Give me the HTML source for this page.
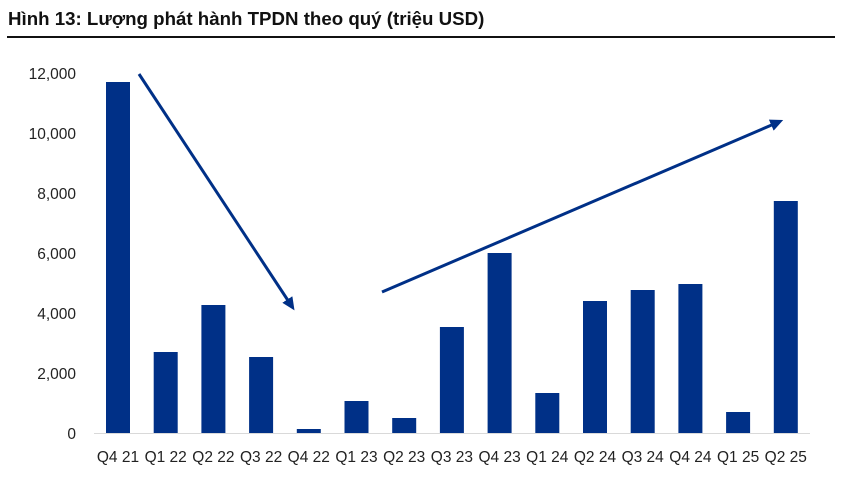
<!DOCTYPE html>
<html><head><meta charset="utf-8"><style>
html,body{margin:0;padding:0;background:#fff;}
body{width:841px;height:482px;overflow:hidden;font-family:"Liberation Sans",sans-serif;}
</style></head><body>
<svg width="841" height="482" xmlns="http://www.w3.org/2000/svg" font-family="Liberation Sans, sans-serif">
<text x="8" y="25" font-size="18.7" font-weight="bold" fill="#111">Hình 13: Lượng phát hành TPDN theo quý (triệu USD)</text>
<rect x="7" y="36" width="828" height="2" fill="#111"/>
<g font-size="15.5" fill="#222" text-anchor="end">
<text x="76" y="79">12,000</text>
<text x="76" y="139">10,000</text>
<text x="76" y="199">8,000</text>
<text x="76" y="259">6,000</text>
<text x="76" y="319">4,000</text>
<text x="76" y="379">2,000</text>
<text x="76" y="439">0</text>
</g>
<line x1="94" y1="433.5" x2="810" y2="433.5" stroke="#d9d9d9" stroke-width="1"/>
<g fill="#003087">
<rect x="106" y="82" width="24" height="351"/>
<rect x="153.7" y="352" width="24" height="81"/>
<rect x="201.4" y="305" width="24" height="128"/>
<rect x="249.1" y="357" width="24" height="76"/>
<rect x="296.8" y="429" width="24" height="4"/>
<rect x="344.5" y="401" width="24" height="32"/>
<rect x="392.2" y="418" width="24" height="15"/>
<rect x="439.9" y="327" width="24" height="106"/>
<rect x="487.6" y="253" width="24" height="180"/>
<rect x="535.3" y="393" width="24" height="40"/>
<rect x="583" y="301" width="24" height="132"/>
<rect x="630.7" y="290" width="24" height="143"/>
<rect x="678.4" y="284" width="24" height="149"/>
<rect x="726.1" y="412" width="24" height="21"/>
<rect x="773.8" y="201" width="24" height="232"/>
</g>
<g font-size="15.5" fill="#222" text-anchor="middle">
<text x="118" y="462">Q4 21</text><text x="165.7" y="462">Q1 22</text><text x="213.4" y="462">Q2 22</text>
<text x="261.1" y="462">Q3 22</text><text x="308.8" y="462">Q4 22</text><text x="356.5" y="462">Q1 23</text>
<text x="404.2" y="462">Q2 23</text><text x="451.9" y="462">Q3 23</text><text x="499.6" y="462">Q4 23</text>
<text x="547.3" y="462">Q1 24</text><text x="595" y="462">Q2 24</text><text x="642.7" y="462">Q3 24</text>
<text x="690.4" y="462">Q4 24</text><text x="738.1" y="462">Q1 25</text><text x="785.8" y="462">Q2 25</text>
</g>
<defs><marker id="a" markerWidth="13" markerHeight="12" refX="3" refY="6" orient="auto" markerUnits="userSpaceOnUse"><path d="M0,0 L13,6 L0,12 z" fill="#003087"/></marker></defs>
<g stroke="#003087" stroke-width="3" fill="none">
<line x1="139" y1="74" x2="289" y2="302" marker-end="url(#a)"/>
<line x1="382" y1="292" x2="774" y2="124" marker-end="url(#a)"/>
</g>
</svg>
</body></html>
